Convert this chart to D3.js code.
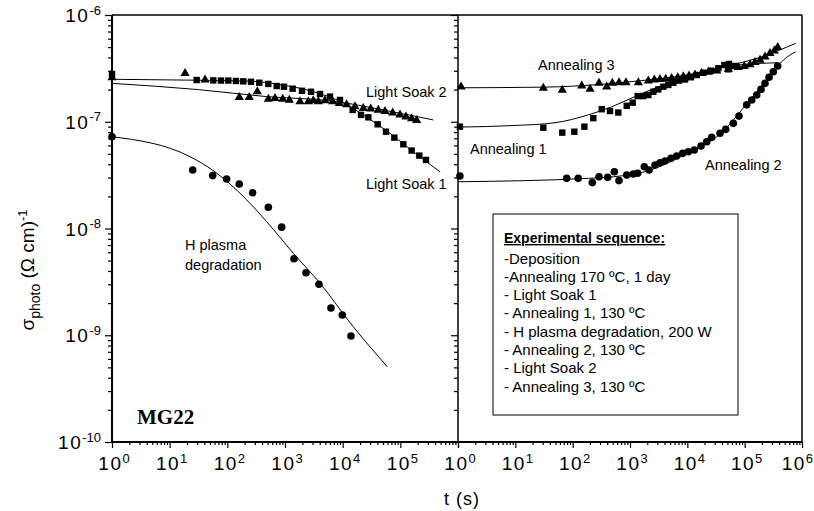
<!DOCTYPE html>
<html><head><meta charset="utf-8">
<script src="https://cdn.jsdelivr.net/npm/d3@7"></script>
<style>
html,body{margin:0;padding:0;background:#fff;}
svg{display:block;}
</style></head>
<body>
<svg id="chart" width="814" height="511"></svg>
<script>
// ---------- DATA (t in s, sigma in (Ohm cm)^-1) ----------
// Left panel
const lightSoak1_t = [1, 29.4, 57.1, 77.6, 104, 141, 189, 257, 358, 513, 718, 959, 1358, 1972, 2825, 4046, 6030, 8980, 14890, 20800, 27860, 40460, 56360, 78700, 112700, 157000, 213300, 278600];
const lightSoak1_s = [2.8e-7, 2.46e-7, 2.44e-7, 2.43e-7, 2.43e-7, 2.41e-7, 2.39e-7, 2.37e-7, 2.32e-7, 2.26e-7, 2.16e-7, 2.13e-7, 2.04e-7, 1.95e-7, 1.91e-7, 1.82e-7, 1.72e-7, 1.60e-7, 1.29e-7, 1.16e-7, 1.10e-7, 9.46e-8, 8.07e-8, 7.10e-8, 6.15e-8, 5.37e-8, 4.82e-8, 4.39e-8];
const lightSoak1Fit_t = [1, 29.5, 251, 1000, 3162, 10000, 25100, 63100, 158000, 490000];
const lightSoak1Fit_s = [2.5e-7, 2.45e-7, 2.40e-7, 2.19e-7, 1.91e-7, 1.51e-7, 1.12e-7, 7.94e-8, 5.37e-8, 3.39e-8];

const lightSoak2_t = [1, 18.5, 41.0, 161, 240, 331, 514, 671, 912, 1189, 1820, 2535, 3097, 3784, 4932, 6714, 8750, 11720, 16370, 22800, 30620, 41500, 54200, 73600, 98600, 125300, 157000, 191900];
const lightSoak2_s = [2.63e-7, 2.88e-7, 2.51e-7, 1.72e-7, 1.72e-7, 1.95e-7, 1.66e-7, 1.68e-7, 1.66e-7, 1.62e-7, 1.57e-7, 1.57e-7, 1.60e-7, 1.57e-7, 1.60e-7, 1.57e-7, 1.51e-7, 1.47e-7, 1.41e-7, 1.36e-7, 1.34e-7, 1.31e-7, 1.27e-7, 1.23e-7, 1.18e-7, 1.13e-7, 1.09e-7, 1.05e-7];
const lightSoak2Fit_t = [1, 31.6, 479, 6920, 50100, 373000];
const lightSoak2Fit_s = [2.29e-7, 2.0e-7, 1.72e-7, 1.56e-7, 1.29e-7, 1.04e-7];

const hPlasma_t = [1, 25.1, 55.7, 97.3, 161, 275, 514, 875, 1432, 2312, 3882, 6266, 9863, 13930];
const hPlasma_s = [7.24e-8, 3.53e-8, 3.13e-8, 2.91e-8, 2.61e-8, 2.16e-8, 1.58e-8, 1.03e-8, 5.21e-9, 3.85e-9, 3.00e-9, 1.80e-9, 1.55e-9, 9.84e-10];
const hPlasmaFit_t = [1, 22.5, 57.1, 166, 481, 1393, 4046, 15310, 59400];
const hPlasmaFit_s = [7.24e-8, 4.71e-8, 3.48e-8, 2.14e-8, 1.16e-8, 5.86e-9, 3.07e-9, 1.20e-9, 5.07e-10];

// Right panel
const anneal3_t = [1.13, 30.8, 65.9, 144, 201, 288, 392, 492, 643, 851, 1400, 2089, 2661, 3334, 4198, 5333, 6792, 8511, 10690, 13610, 17780, 23230, 32510, 51880, 77450, 98600, 123900, 151400, 185400, 226500, 276700, 328900, 376700];
const anneal3_s = [2.16e-7, 2.10e-7, 2.01e-7, 2.21e-7, 2.06e-7, 2.34e-7, 2.16e-7, 2.34e-7, 2.37e-7, 2.37e-7, 2.37e-7, 2.46e-7, 2.51e-7, 2.53e-7, 2.55e-7, 2.59e-7, 2.64e-7, 2.69e-7, 2.74e-7, 2.80e-7, 2.88e-7, 2.97e-7, 3.05e-7, 3.17e-7, 3.28e-7, 3.35e-7, 3.48e-7, 3.66e-7, 3.85e-7, 4.13e-7, 4.44e-7, 4.70e-7, 5.05e-7];
const anneal3Fit_t = [1, 31.6, 316, 1585, 10000, 58900, 200000, 778000];
const anneal3Fit_s = [2.08e-7, 2.11e-7, 2.24e-7, 2.43e-7, 2.75e-7, 3.39e-7, 4.07e-7, 5.43e-7];

const anneal1_t = [1.08, 30.8, 65.9, 107, 160, 229, 321, 448, 625, 877, 1114, 1361, 1706, 2089, 2553, 3119, 3811, 4667, 5702, 7161, 9120, 11590, 14590, 19050, 25940, 34750, 44260, 51880, 53330, 66070];
const anneal1_s = [8.99e-8, 8.79e-8, 7.91e-8, 8.07e-8, 8.99e-8, 1.08e-7, 1.31e-7, 1.26e-7, 1.22e-7, 1.41e-7, 1.51e-7, 1.74e-7, 1.74e-7, 1.78e-7, 1.91e-7, 2.01e-7, 2.13e-7, 2.21e-7, 2.32e-7, 2.43e-7, 2.49e-7, 2.61e-7, 2.74e-7, 2.88e-7, 3.01e-7, 3.17e-7, 3.40e-7, 3.10e-7, 3.48e-7, 3.33e-7];
const anneal1Fit_t = [1, 10, 49.2, 188, 480, 1400, 5333, 20320, 77450, 386400];
const anneal1Fit_s = [8.91e-8, 9.23e-8, 9.79e-8, 1.16e-7, 1.38e-7, 1.78e-7, 2.37e-7, 2.99e-7, 3.40e-7, 3.57e-7];

const anneal2_t = [1.08, 78.7, 125, 220, 288, 408, 533, 643, 877, 1143, 1361, 1778, 2148, 2729, 3334, 4074, 5188, 6516, 8299, 10400, 13240, 17340, 21780, 26610, 37150, 46670, 63390, 79620, 108600, 132700, 162200, 192800, 226500, 266100, 316200, 376700];
const anneal2_s = [3.10e-8, 2.95e-8, 2.95e-8, 2.69e-8, 3.05e-8, 3.02e-8, 3.40e-8, 2.81e-8, 3.17e-8, 3.24e-8, 3.29e-8, 3.79e-8, 3.53e-8, 3.94e-8, 4.13e-8, 4.29e-8, 4.54e-8, 4.78e-8, 5.06e-8, 5.24e-8, 5.43e-8, 5.93e-8, 6.50e-8, 7.14e-8, 7.80e-8, 8.49e-8, 9.66e-8, 1.13e-7, 1.44e-7, 1.60e-7, 1.78e-7, 2.01e-7, 2.29e-7, 2.61e-7, 2.94e-7, 3.33e-7];
const anneal2Fit_t = [1, 188, 1400, 10400, 39720, 98600, 296500, 472100, 778000];
const anneal2Fit_s = [2.74e-8, 2.95e-8, 3.29e-8, 5.13e-8, 7.89e-8, 1.38e-7, 2.84e-7, 3.78e-7, 4.53e-7];

// Axes
const xMajor = [1, 10, 100, 1000, 1e4, 1e5, 1e6];
const xMajorExp = ["0", "1", "2", "3", "4", "5", "6"];
const yMajor = [1e-6, 1e-7, 1e-8, 1e-9, 1e-10];
const yMajorExp = ["-6", "-7", "-8", "-9", "-10"];

const legendTitle = "Experimental sequence:";
const legendLines = ["-Deposition", "-Annealing 170 ºC, 1 day", "- Light Soak 1", "- Annealing 1, 130 ºC", "- H plasma degradation, 200 W", "- Annealing 2, 130 ºC", "- Light Soak 2", "- Annealing 3, 130 ºC"];

// ---------- DRAW ----------
const SANS = "'Liberation Sans', Arial, Helvetica, sans-serif";
const svg = d3.select("#chart").style("font-family", SANS);
const X0 = 112, XM = 458, X1 = 802, YT = 15, YB = 442;
const xL = d3.scaleLog().domain([1, 1e6]).range([X0, XM]);
const xR = d3.scaleLog().domain([1, 1e6]).range([XM, X1]);
const y = d3.scaleLog().domain([1e-10, 1e-6]).range([YB, YT]);

const zip = (a, b) => a.map((v, i) => [v, b[i]]);
const minors = (lo, hi) => { const r = []; for (let e = lo; e < hi; e++) for (let k = 2; k <= 9; k++) r.push(k * Math.pow(10, e)); return r; };

function line(xs, ts, ss) {
  const gen = d3.line().x(d => xs(d[0])).y(d => y(d[1])).curve(d3.curveMonotoneX);
  svg.append("path").attr("d", gen(zip(ts, ss))).attr("fill", "none").attr("stroke", "#000").attr("stroke-width", 1);
}
function circles(xs, ts, ss) {
  svg.append("g").selectAll("circle").data(zip(ts, ss)).join("circle")
    .attr("cx", d => xs(d[0])).attr("cy", d => y(d[1])).attr("r", 3.8).attr("fill", "#000");
}
function squares(xs, ts, ss) {
  const s = 6.4;
  svg.append("g").selectAll("rect").data(zip(ts, ss)).join("rect")
    .attr("x", d => xs(d[0]) - s / 2).attr("y", d => y(d[1]) - s / 2).attr("width", s).attr("height", s).attr("fill", "#000");
}
function triangles(xs, ts, ss) {
  svg.append("g").selectAll("path").data(zip(ts, ss)).join("path")
    .attr("d", d => { const cx = xs(d[0]), cy = y(d[1]); return `M${cx},${cy - 4.6}L${cx + 4.6},${cy + 3.4}L${cx - 4.6},${cy + 3.4}Z`; })
    .attr("fill", "#000");
}

function styleAxis(g) { g.select(".domain").remove(); g.selectAll("line").attr("stroke", "#000").attr("stroke-width", 1.2); }

// x axes (left & right)
[xL, xR].forEach(xs => {
  svg.append("g").attr("transform", `translate(0,${YB})`)
    .call(d3.axisBottom(xs).tickValues(minors(0, 6)).tickSize(3).tickFormat("")).call(styleAxis);
  svg.append("g").attr("transform", `translate(0,${YB})`)
    .call(d3.axisBottom(xs).tickValues(xMajor).tickSize(6).tickFormat("")).call(styleAxis);
});
// y axes at left edge and at the divider
[X0, XM].forEach(xp => {
  svg.append("g").attr("transform", `translate(${xp},0)`)
    .call(d3.axisLeft(y).tickValues(minors(-10, -6)).tickSize(4).tickFormat("")).call(styleAxis);
  svg.append("g").attr("transform", `translate(${xp},0)`)
    .call(d3.axisLeft(y).tickValues(yMajor).tickSize(7).tickFormat("")).call(styleAxis);
});

// Frame
const frame = svg.append("g").attr("stroke", "#000").attr("fill", "none");
frame.append("line").attr("x1", X0).attr("x2", X1).attr("y1", YT).attr("y2", YT).attr("stroke-width", 1.5);
frame.append("line").attr("x1", X0).attr("x2", X1).attr("y1", YB).attr("y2", YB).attr("stroke-width", 1.8);
frame.append("line").attr("x1", X0).attr("x2", X0).attr("y1", YT).attr("y2", YB).attr("stroke-width", 2);
frame.append("line").attr("x1", XM).attr("x2", XM).attr("y1", YT).attr("y2", YB).attr("stroke-width", 1.5);
frame.append("line").attr("x1", X1).attr("x2", X1).attr("y1", YT).attr("y2", YB).attr("stroke-width", 1.5);

// Tick labels
yMajor.forEach((v, i) => {
  const t = svg.append("text").attr("x", 101).attr("y", y(v) + 7).attr("text-anchor", "end").attr("font-size", 19);
  t.append("tspan").attr("letter-spacing", 1.5).text("10");
  t.append("tspan").attr("font-size", 13).attr("dy", -7.5).text(yMajorExp[i]);
});
function xLabels(xs, skipLast) {
  xMajor.forEach((v, i) => {
    if (skipLast && i === xMajor.length - 1) return;
    const last = !skipLast && i === xMajor.length - 1;
    const t = svg.append("text").attr("x", last ? 813 : xs(v) + 2).attr("y", 470)
      .attr("text-anchor", last ? "end" : "middle").attr("font-size", 19);
    t.append("tspan").attr("letter-spacing", 1.5).text("10");
    t.append("tspan").attr("font-size", 13).attr("dy", -7.5).text(xMajorExp[i]);
  });
}
xLabels(xL, true);
xLabels(xR, false);

// Axis titles
svg.append("text").attr("x", 462).attr("y", 505).attr("text-anchor", "middle").attr("font-size", 18).attr("letter-spacing", 1).text("t (s)");
const yt = svg.append("text").attr("transform", "translate(34,270) rotate(-90)").attr("text-anchor", "middle").attr("font-size", 19);
yt.append("tspan").text("σ");
yt.append("tspan").attr("font-size", 14).attr("dy", 6).text("photo");
yt.append("tspan").attr("dy", -6).text("  (Ω cm)");
yt.append("tspan").attr("font-size", 13).attr("dy", -7.5).text("-1");

// Series: left panel
line(xL, lightSoak1Fit_t, lightSoak1Fit_s);
line(xL, lightSoak2Fit_t, lightSoak2Fit_s);
line(xL, hPlasmaFit_t, hPlasmaFit_s);
squares(xL, lightSoak1_t, lightSoak1_s);
triangles(xL, lightSoak2_t, lightSoak2_s);
circles(xL, hPlasma_t, hPlasma_s);

// Series: right panel
line(xR, anneal3Fit_t, anneal3Fit_s);
line(xR, anneal1Fit_t, anneal1Fit_s);
line(xR, anneal2Fit_t, anneal2Fit_s);
triangles(xR, anneal3_t, anneal3_s);
squares(xR, anneal1_t, anneal1_s);
circles(xR, anneal2_t, anneal2_s);

// Annotations
const ann = (x, yy, s) => svg.append("text").attr("x", x).attr("y", yy).attr("font-size", 14.5).text(s);
ann(366, 97, "Light Soak 2");
ann(366, 189, "Light Soak 1");
ann(185, 250, "H plasma");
ann(185, 270, "degradation");
ann(538, 70, "Annealing 3");
ann(470, 154, "Annealing 1");
ann(705, 170, "Annealing 2");
svg.append("text").attr("x", 137).attr("y", 424)
  .style("font-family", "'Liberation Serif','Times New Roman',serif")
  .attr("font-weight", "bold").attr("font-size", 21).text("MG22");

// Legend box
svg.append("rect").attr("x", 493).attr("y", 214).attr("width", 245).attr("height", 201).attr("fill", "#fff").attr("stroke", "#000").attr("stroke-width", 1);
svg.append("text").attr("x", 504).attr("y", 243).attr("font-size", 14).attr("font-weight", "bold").attr("text-decoration", "underline").text(legendTitle);
legendLines.forEach((s, i) => {
  svg.append("text").attr("x", 504).attr("y", 263.5 + i * 18.3).attr("font-size", 15).text(s);
});
</script>
</body></html>
